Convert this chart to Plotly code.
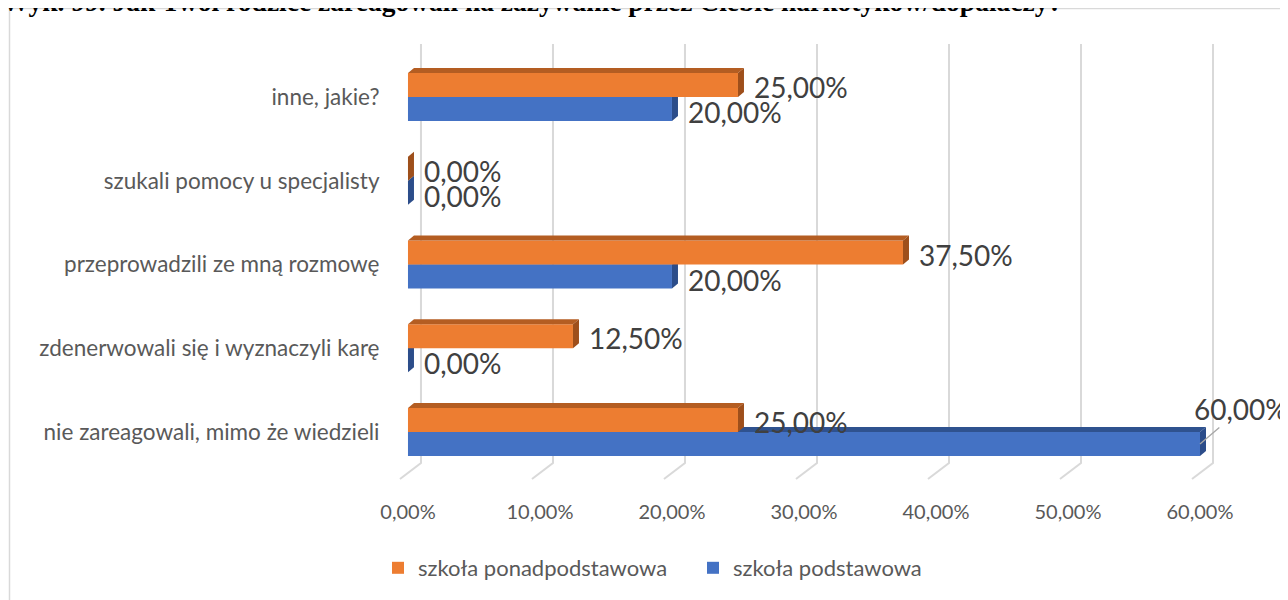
import plotly.graph_objects as go

# ---------------- data ----------------
categories = [
    "nie zareagowali, mimo że wiedzieli",
    "zdenerwowali się i wyznaczyli karę",
    "przeprowadzili ze mną rozmowę",
    "szukali pomocy u specjalisty",
    "inne, jakie?",
]
ponadpodstawowa = [25.0, 12.5, 37.5, 0.0, 25.0]
podstawowa = [60.0, 0.0, 20.0, 0.0, 20.0]
tick_values = [0, 10, 20, 30, 40, 50, 60]
tick_labels = ["0,00%", "10,00%", "20,00%", "30,00%", "40,00%", "50,00%", "60,00%"]
series_names = ["szkoła ponadpodstawowa", "szkoła podstawowa"]
title_text = "Wyk. 99. Jak Twoi rodzice zareagowali na zażywanie przez Ciebie narkotyków/dopalaczy?"

# ---------------- style ----------------
ORANGE, ORANGE_TOP, ORANGE_SIDE = "#ED7D31", "#B45D22", "#9E4F1B"
BLUE, BLUE_TOP, BLUE_SIDE = "#4472C4", "#2F528F", "#2C4D8A"
GRID = "#D9D9D9"
TXT = "#595959"
LBL = "#404040"
FONT = "Lato, 'Open Sans', sans-serif"

PAGE_OFF = 8                      # browser body margin
W, H = 1288, 600
ML, MR, MT, MB = 391, 70, 32, 123
X_MIN, X_MAX = -0.68, 61.97
Y_MIN, Y_MAX = -0.633, 4.681
PW, PH = W - ML - MR, H - MT - MB
XPX = PW / (X_MAX - X_MIN)
YPX = PH / (Y_MAX - Y_MIN)

BARGAP = 0.427
T = (1 - BARGAP) / 2          # bar thickness in y units
DX = 6 / XPX                  # 3D depth (x)
DY = 5 / YPX                  # 3D depth (y)

def px2paper_x(px):
    return (px - PAGE_OFF - ML) / PW

def px2paper_y(py):
    return 1 - (py - PAGE_OFF - MT) / PH

ys = list(range(len(categories)))

fig = go.Figure()
fig.add_trace(go.Bar(y=ys, x=podstawowa, orientation="h", name=series_names[1],
                     marker=dict(color=BLUE, line=dict(width=0))))
fig.add_trace(go.Bar(y=ys, x=ponadpodstawowa, orientation="h", name=series_names[0],
                     marker=dict(color=ORANGE, line=dict(width=0))))

shapes = []
# gridlines on back wall with floor diagonal
g_top = 4 + (97 - 44) / YPX
g_bot = -(463 - 432) / YPX
g_floor = -(479 - 432) / YPX
g_off = 13 / XPX
g_diag = 21 / XPX
for v in tick_values:
    xv = v + g_off
    shapes.append(dict(type="path", xref="x", yref="y", layer="below",
                       path=f"M {xv},{g_top} L {xv},{g_bot} L {xv - g_diag},{g_floor}",
                       line=dict(color=GRID, width=2)))

for i, (vo, vb) in enumerate(zip(ponadpodstawowa, podstawowa)):
    shapes.append(dict(type="path", xref="x", yref="y", layer="below",
                       path=f"M 0,{i} L {vb},{i} L {vb+DX},{i+DY} L {DX},{i+DY} Z",
                       fillcolor=BLUE_TOP, line=dict(width=0)))
    shapes.append(dict(type="path", xref="x", yref="y", layer="below",
                       path=f"M {vb},{i} L {vb+DX},{i+DY} L {vb+DX},{i-T+DY} L {vb},{i-T} Z",
                       fillcolor=BLUE_SIDE, line=dict(width=0)))
for i, vo in enumerate(ponadpodstawowa):
    shapes.append(dict(type="path", xref="x", yref="y", layer="above",
                       path=f"M 0,{i+T} L {vo},{i+T} L {vo+DX},{i+T+DY} L {DX},{i+T+DY} Z",
                       fillcolor=ORANGE_TOP, line=dict(width=0)))
    shapes.append(dict(type="path", xref="x", yref="y", layer="above",
                       path=f"M {vo},{i+T} L {vo+DX},{i+T+DY} L {vo+DX},{i+DY} L {vo},{i} Z",
                       fillcolor=ORANGE_SIDE, line=dict(width=0)))

# outer chart frame
shapes.append(dict(type="rect", xref="paper", yref="paper",
                   x0=px2paper_x(9.5), x1=px2paper_x(W + 30),
                   y0=px2paper_y(H + 30), y1=px2paper_y(8.5),
                   line=dict(color=GRID, width=1.5), fillcolor="rgba(0,0,0,0)", layer="below"))

def fmt(v):
    return f"{v:.2f}%".replace(".", ",")

annotations = []
for i, vo in enumerate(ponadpodstawowa):
    annotations.append(dict(x=vo, y=i + T / 2, xref="x", yref="y", text=fmt(vo),
                            showarrow=False, xanchor="left", yanchor="middle",
                            xshift=14, yshift=-2,
                            font=dict(family=FONT, size=28, color=LBL)))
max_i = max(range(len(podstawowa)), key=lambda k: podstawowa[k])
for i, vb in enumerate(podstawowa):
    if i == max_i:
        annotations.append(dict(x=vb, y=i - T / 2, xref="x", yref="y", text=fmt(vb),
                                showarrow=True, arrowhead=0, arrowwidth=1.3,
                                arrowcolor="#A6A6A6", ax=41, ay=-35,
                                font=dict(family=FONT, size=28, color=LBL)))
    else:
        annotations.append(dict(x=vb, y=i - T / 2, xref="x", yref="y", text=fmt(vb),
                                showarrow=False, xanchor="left", yanchor="middle",
                                xshift=14, yshift=-3,
                                font=dict(family=FONT, size=28, color=LBL)))

annotations.append(dict(x=px2paper_x(0), y=px2paper_y(1), xref="paper", yref="paper",
                        text=f"<b>{title_text}</b>", showarrow=False,
                        xanchor="left", yanchor="middle",
                        font=dict(family="'Liberation Serif', 'Times New Roman', serif",
                                  size=27.5, color="#000000")))

fig.update_layout(
    width=W, height=H,
    margin=dict(l=ML, r=MR, t=MT, b=MB),
    paper_bgcolor="white", plot_bgcolor="rgba(0,0,0,0)",
    barmode="group", bargap=BARGAP, bargroupgap=0,
    shapes=shapes, annotations=annotations,
    showlegend=True,
    legend=dict(orientation="h", traceorder="reversed",
                x=px2paper_x(378), xanchor="left",
                y=px2paper_y(568), yanchor="middle",
                entrywidth=270, entrywidthmode="pixels",
                font=dict(family=FONT, size=22, color=TXT),
                itemwidth=30, bgcolor="rgba(0,0,0,0)"),
    xaxis=dict(range=[X_MIN, X_MAX], tickvals=tick_values, ticktext=tick_labels,
               showgrid=False, zeroline=False, showline=False,
               ticks="outside", ticklen=9, tickcolor="rgba(0,0,0,0)",
               tickfont=dict(family=FONT, size=20, color=TXT), fixedrange=True),
    yaxis=dict(range=[Y_MIN, Y_MAX], tickvals=ys, ticktext=categories,
               showgrid=False, zeroline=False, showline=False,
               ticks="outside", ticklen=14, tickcolor="rgba(0,0,0,0)",
               tickfont=dict(family=FONT, size=22.5, color=TXT), fixedrange=True),
)

fig.write_html("out.html")
